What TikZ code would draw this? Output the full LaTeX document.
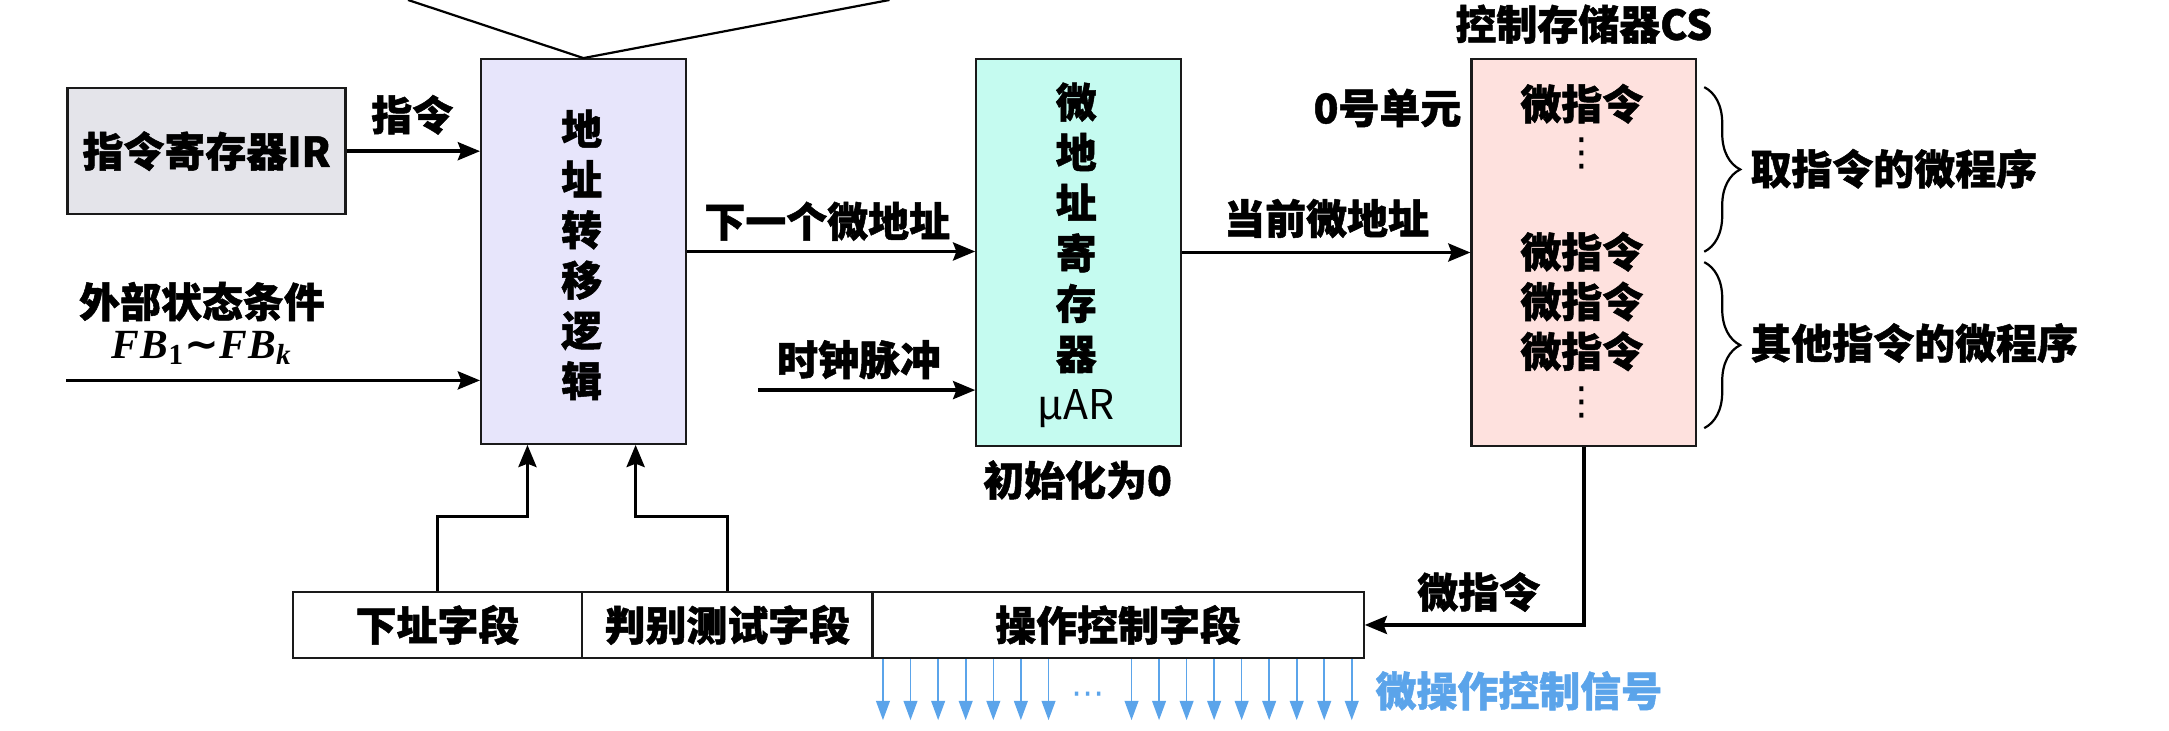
\documentclass[tikz,border=0pt]{standalone}
\usepackage[no-math]{fontspec}
\setmainfont{Noto Sans CJK SC}[BoldFeatures={FakeBold=1.2}]
\newfontfamily\dotsfont{DejaVu Sans}
\newfontfamily\fbfont{Liberation Serif}
\usetikzlibrary{arrows.meta,decorations.pathreplacing}

\definecolor{irfill}{HTML}{E4E4EA}
\definecolor{logicfill}{HTML}{E7E5FB}
\definecolor{uarfill}{HTML}{C5FBF0}
\definecolor{csfill}{HTML}{FEE1DE}
\definecolor{sigblue}{HTML}{5BA4EA}
\definecolor{edge}{HTML}{1A1A1A}

% FB_1 ~ FB_k set in a bold italic serif
\newcommand{\fbrange}{{\fbfont\bfseries\itshape F\kern0.5pt B\textsubscript{\upshape 1}{\dotsfont\bfseries ∼}F\kern0.5pt B\textsubscript{k}}}

\begin{document}
\begin{tikzpicture}[x=0.5pt,y=-0.5pt,
  txt/.style={font=\fontsize{14.8pt}{18.2pt}\selectfont\bfseries, inner sep=0pt, text=black},
  unit/.style={draw=edge, line width=0.8pt, inner sep=0pt, anchor=north west},
  flow/.style={draw=black, line width=1.3pt, -{Stealth[length=8pt,width=6.5pt,inset=1.2pt]}},
  sig/.style={draw=sigblue, line width=0.6pt, -{Triangle[length=7pt,width=5pt]}},
  thinline/.style={draw=black, line width=0.8pt},
  curly/.style={draw=black, line width=0.8pt, decorate, decoration={brace, amplitude=13pt}},
  vdotsmark/.style={font=\dotsfont\fontsize{14pt}{14pt}\selectfont, inner sep=0pt},
]
\useasboundingbox (0,0) rectangle (1568,528);

% ---- functional units ----
\node[unit, txt, fill=irfill, minimum width=100.5pt, minimum height=45.5pt] (ir) at (48,63) {指令寄存器IR};
\node[unit, fill=logicfill, minimum width=74pt, minimum height=139pt] (logic) at (347,42) {};
\node[unit, fill=uarfill, minimum width=74pt, minimum height=139.75pt] (uar) at (705,42) {};
\node[unit, fill=csfill, minimum width=81.25pt, minimum height=139.75pt] (cs) at (1063,42) {};

\node[txt, align=center] (logictext) at (420.5,184.25) {地\\址\\转\\移\\逻\\辑};
\node[txt, align=center] (uartext) at (778,184.5) {微\\地\\址\\寄\\存\\器\\{\mdseries μAR}};

% ---- microinstruction register fields ----
\node[unit, txt, fill=white, minimum width=104.5pt, minimum height=24pt] (f1) at (211,427) {下址字段};
\node[unit, txt, fill=white, minimum width=105pt, minimum height=24pt] (f2) at (420,427) {判别测试字段};
\node[unit, txt, fill=white, minimum width=177.5pt, minimum height=24pt] (f3) at (630,427) {操作控制字段};

% ---- control store contents ----
\node[txt] (csa) at (1143.5,75) {微指令};
\node[vdotsmark] (csb) at (1143.5,111) {⋮};
\node[txt] (csc) at (1143.5,182) {微指令};
\node[txt] (csd) at (1143.5,218) {微指令};
\node[txt] (cse) at (1143.5,254) {微指令};
\node[vdotsmark] (csf) at (1143.5,291) {⋮};

% ---- labels ----
\node[txt] (lblins) at (298,83) {指令};
\node[txt] (lblext) at (146,218) {外部状态条件};
\node[txt, anchor=base, font=\fontsize{15pt}{18pt}\selectfont] (lblfb) at (146,259) {\fbrange};
\node[txt] (lblnext) at (598,160) {下一个微地址};
\node[txt] (lblclk) at (621,260) {时钟脉冲};
\node[txt] (lblinit) at (779,347) {初始化为0};
\node[txt] (lblcur) at (959,158) {当前微地址};
\node[txt] (lblcs) at (1145,17.5) {控制存储器CS};
\node[txt] (lblzero) at (1003,78) {0号单元};
\node[txt, anchor=west] (lblfetch) at (1265,122) {取指令的微程序};
\node[txt, anchor=west] (lblother) at (1265,248) {其他指令的微程序};
\node[txt] (lblmi) at (1069,428) {微指令};
\node[txt, anchor=west, text=sigblue] (lblsig) at (994,499.4) {微操作控制信号};

% ---- connectors ----
\coordinate (topl) at (295,0);
\coordinate (topr) at (643,0);
\draw[thinline] (topl) -- (logic.north) -- (topr);

\draw[flow] (ir.east) -- (ir.east -| logic.west);
\coordinate (ext) at (48,275);
\draw[flow] (ext) -- (ext -| logic.west);
\draw[flow] (logic.east) -- (logic.east -| uar.west);
\coordinate (clk) at (548,282);
\draw[flow] (clk) -- (clk -| uar.west);
\draw[flow] (uar.east) -- (uar.east -| cs.west);
\draw[flow] (cs.south) |- (f3.east);

\coordinate (j1) at (381.3,373.5);
\coordinate (j2) at (459.5,373.5);
\draw[flow] (f1.north) |- (j1) -- (j1 |- logic.south);
\draw[flow] (f2.north) |- (j2) -- (j2 |- logic.south);

% ---- braces ----
\coordinate (b1t) at (1232,63);
\coordinate (b1b) at (1232,182);
\coordinate (b2t) at (1232,189.5);
\coordinate (b2b) at (1232,309.5);
\draw[curly] (b1t) -- (b1b);
\draw[curly] (b2t) -- (b2b);

% ---- micro-operation control signals ----
\foreach \x in {638.3,658.2,678.2,698.1,718.1,738,758,818,837.9,857.8,877.7,897.6,917.5,937.4,957.3,977.2} {
  \coordinate (sx) at (\x,0);
  \draw[sig] (f3.south -| sx) -- ++(0,44);
}
\node[font=\dotsfont\fontsize{12pt}{12pt}\selectfont, text=sigblue, inner sep=0pt] (sigdots) at (786.5,505) {⋯};

\end{tikzpicture}
\end{document}
